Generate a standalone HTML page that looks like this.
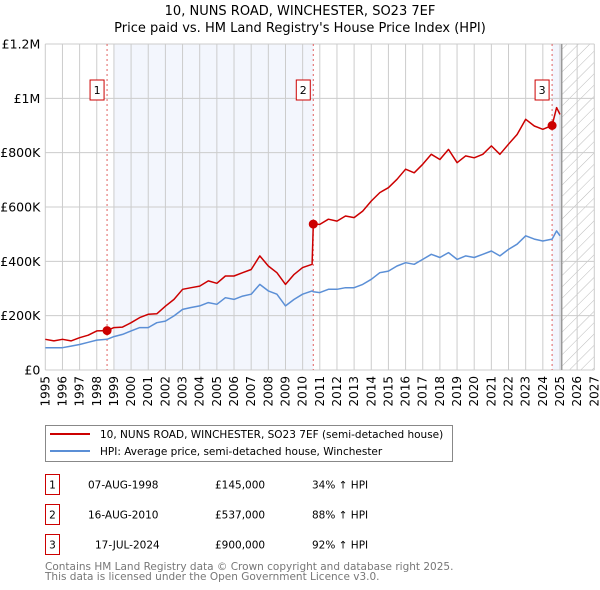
<!DOCTYPE html>
<html><head><meta charset="utf-8"><style>
body{margin:0;background:#fff;font-family:"Liberation Sans","DejaVu Sans",sans-serif;}
#wrap{position:relative;width:600px;height:590px;overflow:hidden}
svg text{font-family:"DejaVu Sans","Liberation Sans",sans-serif;}
</style></head><body>
<div id="wrap">
<svg id="svg" width="600" height="590"></svg>
</div>
<script>
const years=[1995,1995.5,1996,1996.5,1997,1997.5,1998,1998.6,1999,1999.5,2000,2000.5,2001,2001.5,2002,2002.5,2003,2003.5,2004,2004.5,2005,2005.5,2006,2006.5,2007,2007.5,2008,2008.5,2009,2009.5,2010,2010.55,2010.62,2011,2011.5,2012,2012.5,2013,2013.5,2014,2014.5,2015,2015.5,2016,2016.5,2017,2017.5,2018,2018.5,2019,2019.5,2020,2020.5,2021,2021.5,2022,2022.5,2023,2023.5,2024,2024.54,2024.8,2025];
const priceSeries=[113,107,113,107,119,128,144,145,156,158,174,193,205,207,235,260,297,303,309,328,319,346,346,358,370,420,383,358,315,352,377,389,537,536,555,548,567,561,585,622,653,671,702,739,726,757,794,775,812,763,788,781,794,825,794,831,867,923,898,886,900,966,941];
const hpiSeries=[82,82,82,88,94,102,110,113,123,131,144,156,156,174,180,199,223,230,236,248,242,266,260,272,279,315,291,279,236,260,279,291,288,285,297,297,303,303,315,334,358,364,383,395,389,407,426,414,432,407,420,414,426,438,420,444,463,494,482,475,482,512,494];
const yTicks=[0,200,400,600,800,1000,1200];
const yTickLabels=["£0","£200K","£400K","£600K","£800K","£1M","£1.2M"];
const xTicks=[1995,1996,1997,1998,1999,2000,2001,2002,2003,2004,2005,2006,2007,2008,2009,2010,2011,2012,2013,2014,2015,2016,2017,2018,2019,2020,2021,2022,2023,2024,2025,2026,2027];
const saleYears=[1998.6,2010.62,2024.54];
const salePrices=[145,537,900];
const saleLabels=["1","2","3"];
const saleDates=["07-AUG-1998","16-AUG-2010","17-JUL-2024"];
const salePriceText=["£145,000","£537,000","£900,000"];
const saleHpi=["34% ↑ HPI","88% ↑ HPI","92% ↑ HPI"];

const NS="http://www.w3.org/2000/svg";
const svg=document.getElementById('svg');
const X0=45.3,X1=594.3,Y0=370,Y1=44;
const xs=y=>X0+(y-1995)/(2027-1995)*(X1-X0);
const ys=v=>Y0-v/1200*(Y0-Y1);
function el(tag,attrs,parent){const e=document.createElementNS(NS,tag);for(const k in attrs)e.setAttribute(k,attrs[k]);(parent||svg).appendChild(e);return e;}

const defs=el('defs',{});
const pat=el('pattern',{id:'hatch',width:8,height:8,patternUnits:'userSpaceOnUse',patternTransform:'rotate(45)'},defs);
el('line',{x1:0,y1:0,x2:0,y2:8,stroke:'#bbb','stroke-width':1},pat);

let t=el('text',{x:300,y:15,'text-anchor':'middle','font-size':13,fill:'#000'});t.textContent='10, NUNS ROAD, WINCHESTER, SO23 7EF';

t=el('text',{x:300,y:32,'text-anchor':'middle','font-size':13,fill:'#000'});t.textContent="Price paid vs. HM Land Registry's House Price Index (HPI)";


let r=el('rect',{x:xs(1999),y:Y1,width:xs(saleYears[1])-xs(1999),height:Y0-Y1,fill:'#f3f6fd'});

r=el('rect',{x:xs(saleYears[2]),y:Y1,width:xs(2025.1)-xs(saleYears[2]),height:Y0-Y1,fill:'#f3f6fd'});

r=el('rect',{x:xs(2025.1),y:Y1,width:X1-xs(2025.1),height:Y0-Y1,fill:'url(#hatch)'});


xTicks.forEach(y=>{const l=el('line',{x1:xs(y),x2:xs(y),y1:Y1,y2:Y0,stroke:'#ccc','stroke-width':1});

const tx=el('text',{x:0,y:0,'font-size':12,fill:'#000',transform:`translate(${xs(y)+4},${Y0+6}) rotate(-90)`,'text-anchor':'end'});tx.textContent=y;
});
yTicks.forEach((v,i)=>{const l=el('line',{x1:X0,x2:X1,y1:ys(v),y2:ys(v),stroke:'#ccc','stroke-width':1});

const tx=el('text',{x:X0-5,y:ys(v)+4.5,'font-size':12.5,fill:'#000','text-anchor':'end'});tx.textContent=yTickLabels[i];
});
let l=el('line',{x1:xs(2025.1),x2:xs(2025.1),y1:Y1,y2:Y0,stroke:'#999','stroke-width':1.5});


saleYears.forEach((y,i)=>{const v=el('line',{x1:xs(y),x2:xs(y),y1:Y1,y2:Y0,stroke:'#e06060','stroke-width':1,'stroke-dasharray':'2,3'});
});

function path(vals,color,name){const d=years.map((y,i)=>(i?'L':'M')+xs(y).toFixed(1)+','+ys(vals[i]).toFixed(1)).join('');
const p=el('path',{d:d,fill:'none',stroke:color,'stroke-width':1.5,'stroke-linejoin':'round'});
}
path(hpiSeries,'#5b8fd6','hpi-line');
path(priceSeries,'#cc0000','price-line');

saleYears.forEach((y,i)=>{const c=el('circle',{cx:xs(y),cy:ys(salePrices[i]),r:4.5,fill:'#cc0000'});

const g=el('g',{});
el('rect',{x:xs(y)-17,y:80,width:14,height:20,fill:'#fff',stroke:'#cc0000','stroke-width':1},g);
const tx=el('text',{x:xs(y)-10,y:94,'font-size':11,'text-anchor':'middle',fill:'#000'},g);tx.textContent=saleLabels[i];});

const lg=el('g',{});
el('rect',{x:45.5,y:425.5,width:407,height:36,fill:'#fff',stroke:'#888','stroke-width':1},lg);
el('line',{x1:50,x2:90,y1:434,y2:434,stroke:'#cc0000','stroke-width':2},lg);
el('line',{x1:50,x2:90,y1:451,y2:451,stroke:'#5b8fd6','stroke-width':2},lg);
t=el('text',{x:100,y:438,'font-size':10.5,fill:'#000'},lg);t.textContent='10, NUNS ROAD, WINCHESTER, SO23 7EF (semi-detached house)';

t=el('text',{x:100,y:455,'font-size':10.5,fill:'#000'},lg);t.textContent='HPI: Average price, semi-detached house, Winchester';


saleLabels.forEach((s,i)=>{const yy=483+i*30;const g=el('g',{});

el('rect',{x:45.5,y:yy-8.5,width:14,height:20,fill:'#fff',stroke:'#cc0000','stroke-width':1},g);
let a=el('text',{x:52.5,y:yy+5.5,'font-size':10.5,'text-anchor':'middle'},g);a.textContent=s;
a=el('text',{x:(i==2?95:88),y:yy+5.5,'font-size':10.5},g);a.textContent=saleDates[i];
a=el('text',{x:215,y:yy+5.5,'font-size':10.5},g);a.textContent=salePriceText[i];
a=el('text',{x:312,y:yy+5.5,'font-size':10.5},g);a.textContent=saleHpi[i];});

t=el('text',{x:45,y:570,'font-size':10.5,fill:'#777'});t.textContent='Contains HM Land Registry data © Crown copyright and database right 2025.';

t=el('text',{x:45,y:580,'font-size':10.5,fill:'#777'});t.textContent='This data is licensed under the Open Government Licence v3.0.';

</script>
</body></html>
